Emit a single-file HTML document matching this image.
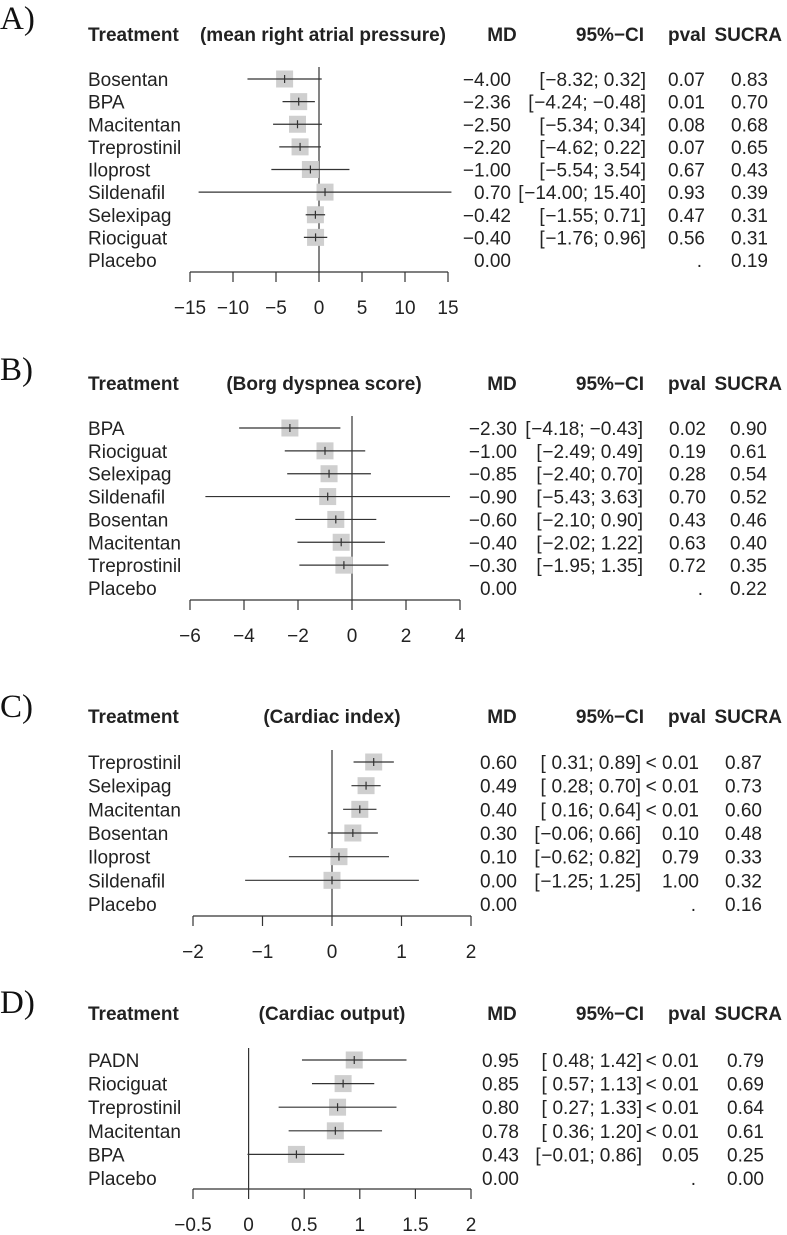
<!DOCTYPE html>
<html><head><meta charset="utf-8"><style>
html,body{margin:0;padding:0;background:#fff}
svg{display:block;font-family:"Liberation Sans",Arial,sans-serif}
</style></head><body>
<svg id="chart" width="787" height="1235" viewBox="0 0 787 1235"></svg>
<script>
// Panel A
const catsA = ["Bosentan","BPA","Macitentan","Treprostinil","Iloprost","Sildenafil","Selexipag","Riociguat","Placebo"];
const mdA = [-4.00,-2.36,-2.50,-2.20,-1.00,0.70,-0.42,-0.40,0];
const loA = [-8.32,-4.24,-5.34,-4.62,-5.54,-14.00,-1.55,-1.76,null];
const hiA = [0.32,-0.48,0.34,0.22,3.54,15.40,0.71,0.96,null];
const pA = ["0.07","0.01","0.08","0.07","0.67","0.93","0.47","0.56","."];
const sucraA = ["0.83","0.70","0.68","0.65","0.43","0.39","0.31","0.31","0.19"];
const ticksA = [-15,-10,-5,0,5,10,15];
// Panel B
const catsB = ["BPA","Riociguat","Selexipag","Sildenafil","Bosentan","Macitentan","Treprostinil","Placebo"];
const mdB = [-2.30,-1.00,-0.85,-0.90,-0.60,-0.40,-0.30,0];
const loB = [-4.18,-2.49,-2.40,-5.43,-2.10,-2.02,-1.95,null];
const hiB = [-0.43,0.49,0.70,3.63,0.90,1.22,1.35,null];
const pB = ["0.02","0.19","0.28","0.70","0.43","0.63","0.72","."];
const sucraB = ["0.90","0.61","0.54","0.52","0.46","0.40","0.35","0.22"];
const ticksB = [-6,-4,-2,0,2,4];
// Panel C
const catsC = ["Treprostinil","Selexipag","Macitentan","Bosentan","Iloprost","Sildenafil","Placebo"];
const mdC = [0.60,0.49,0.40,0.30,0.10,0.00,0];
const loC = [0.31,0.28,0.16,-0.06,-0.62,-1.25,null];
const hiC = [0.89,0.70,0.64,0.66,0.82,1.25,null];
const pC = ["< 0.01","< 0.01","< 0.01","0.10","0.79","1.00","."];
const sucraC = ["0.87","0.73","0.60","0.48","0.33","0.32","0.16"];
const ticksC = [-2,-1,0,1,2];
// Panel D
const catsD = ["PADN","Riociguat","Treprostinil","Macitentan","BPA","Placebo"];
const mdD = [0.95,0.85,0.80,0.78,0.43,0];
const loD = [0.48,0.57,0.27,0.36,-0.01,null];
const hiD = [1.42,1.13,1.33,1.20,0.86,null];
const pD = ["< 0.01","< 0.01","< 0.01","< 0.01","0.05","."];
const sucraD = ["0.79","0.69","0.64","0.61","0.25","0.00"];
const ticksD = [-0.5,0,0.5,1,1.5,2];

const NS="http://www.w3.org/2000/svg";
const svg=document.getElementById('chart');
const FS=19;
function mk(tag,attrs,parent){const e=document.createElementNS(NS,tag);for(const k in attrs)e.setAttribute(k,attrs[k]);(parent||svg).appendChild(e);return e;}
function txt(s,x,y,anchor,parent,extra){const t=mk('text',Object.assign({x:x,y:y,'text-anchor':anchor||'start','font-size':FS,fill:'#222'},extra||{}),parent);t.textContent=s;return t;}
function fmt(v){const s=Math.abs(v).toFixed(2);return (v<0?'\u2212':'')+s;}

function panel(cfg){
  const g=mk('g',{});
  
  
  const lt=txt(cfg.id+')',0,cfg.letterY,'start',g,{'font-family':'"Liberation Serif",serif','font-size':33,fill:'#111'});
  
  
  const hy=cfg.headY+7;
  const h1=txt('Treatment',88,hy,'start',g,{'font-weight':'bold'});
  
  
  const h2=txt(cfg.title,cfg.titleX,hy,'middle',g,{'font-weight':'bold'});
  
  
  const h3=txt('MD',502,hy,'middle',g,{'font-weight':'bold'});
  
  
  const h4=txt('95%\u2212CI',644,hy,'end',g,{'font-weight':'bold'});
  
  
  const h5=txt('pval',687,hy,'middle',g,{'font-weight':'bold'});
  
  
  const h6=txt('SUCRA',782,hy,'end',g,{'font-weight':'bold'});
  
  
  const t0=cfg.ticks[0],t1=cfg.ticks[cfg.ticks.length-1];
  const X=v=>cfg.x0+(v-t0)/(t1-t0)*(cfg.x1-cfg.x0);
  const n=cfg.cats.length;
  const Y=i=>cfg.row0+i*(cfg.rowN-cfg.row0)/(n-1);
  const zl=mk('line',{x1:X(0),x2:X(0),y1:cfg.row0-12,y2:cfg.axisY,stroke:'#333','stroke-width':1.2},g);
  
  
  for(let i=0;i<n;i++){
    const y=Y(i), by=y+7;
    const lab=txt(cfg.cats[i],88,by,'start',g);
    
    
    if(cfg.lo[i]!==null){
      const sq=mk('rect',{x:X(cfg.md[i])-8.5,y:y-8.5,width:17,height:17,fill:'#cfcfcf'},g);
      
      
      const ci=mk('line',{x1:X(cfg.lo[i]),x2:X(cfg.hi[i]),y1:y,y2:y,stroke:'#333','stroke-width':1.2},g);
      
      
      const tk=mk('line',{x1:X(cfg.md[i]),x2:X(cfg.md[i]),y1:y-4,y2:y+4,stroke:'#333','stroke-width':1.2},g);
      
      
      const c=txt(fmt(cfg.hi[i])+']',cfg.ciR,by,'end',g);
      
      
      const cw=c.getComputedTextLength();
      const lowR=cfg.ciR-cw-5;
      const b=txt(fmt(cfg.lo[i])+';',lowR,by,'end',g);
      
      
      const bw=b.getComputedTextLength();
      const bx=lowR-bw-(cfg.lo[i]<0?6:11);
      const a=txt('[',bx,by,'start',g);
      
      
    }
    const md=txt(fmt(cfg.md[i]),cfg.mdR,by,'end',g);
    
    
    const pv=txt(cfg.p[i],cfg.p[i]==='.'?cfg.pR-3:cfg.pR,by,'end',g);
    
    
    const su=txt(cfg.sucra[i],cfg.sR,by,'end',g);
    
    
  }
  const ax=mk('line',{x1:X(t0),x2:X(t1),y1:cfg.axisY,y2:cfg.axisY,stroke:'#333','stroke-width':1.2},g);
  
  
  cfg.ticks.forEach(t=>{
    const tl=mk('line',{x1:X(t),x2:X(t),y1:cfg.axisY,y2:cfg.axisY+10,stroke:'#333','stroke-width':1.2},g);
    
    
    const s=(t<0?'\u2212':'')+Math.abs(t);
    const tt=txt(s,X(t),cfg.axisY+42,'middle',g);
    
    
  });
}
panel({id:'A',letterY:29,headY:34,title:'(mean right atrial pressure)',titleX:323,cats:catsA,md:mdA,lo:loA,hi:hiA,p:pA,sucra:sucraA,ticks:ticksA,x0:190,x1:448,row0:79,rowN:260,axisY:272,mdR:511,ciR:646,pR:705,sR:768});
panel({id:'B',letterY:380,headY:383,title:'(Borg dyspnea score)',titleX:324,cats:catsB,md:mdB,lo:loB,hi:hiB,p:pB,sucra:sucraB,ticks:ticksB,x0:190,x1:460,row0:428,rowN:588,axisY:600,mdR:517,ciR:643,pR:706,sR:767});
panel({id:'C',letterY:717,headY:716,title:'(Cardiac index)',titleX:332,cats:catsC,md:mdC,lo:loC,hi:hiC,p:pC,sucra:sucraC,ticks:ticksC,x0:193,x1:471,row0:762,rowN:904,axisY:916,mdR:517,ciR:641,pR:699,sR:762});
panel({id:'D',letterY:1013,headY:1013,title:'(Cardiac output)',titleX:332,cats:catsD,md:mdD,lo:loD,hi:hiD,p:pD,sucra:sucraD,ticks:ticksD,x0:193,x1:471,row0:1060,rowN:1178,axisY:1189,mdR:519,ciR:642,pR:699,sR:764});
</script>
</body></html>
